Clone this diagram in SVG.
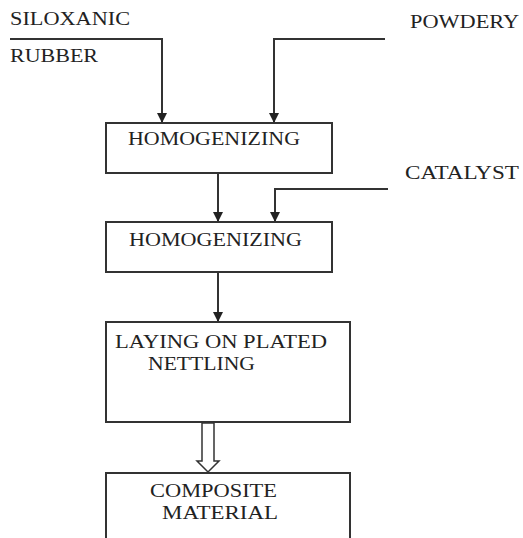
<svg xmlns="http://www.w3.org/2000/svg" width="523" height="538" viewBox="0 0 523 538">
<style>
text{font-family:"Liberation Serif","Times New Roman",serif;font-size:18px;fill:#222;}
.box{fill:#fff;stroke:#333;stroke-width:2;}
.ln{fill:none;stroke:#333;stroke-width:2;}
</style>
<defs>
<marker id="ah" viewBox="0 0 10 10" refX="10" refY="5" markerWidth="5" markerHeight="5.5" orient="auto" markerUnits="strokeWidth">
<path d="M0,0 L10,5 L0,10 z" fill="#222"/>
</marker>
</defs>
<rect width="523" height="538" fill="#fff"/>
<g id="inputs">
<text x="10" y="25" textLength="120" lengthAdjust="spacingAndGlyphs">SILOXANIC</text>
<text x="10" y="62" textLength="88" lengthAdjust="spacingAndGlyphs">RUBBER</text>
<text x="410" y="28" textLength="109" lengthAdjust="spacingAndGlyphs">POWDERY</text>
<text x="405" y="179" textLength="114" lengthAdjust="spacingAndGlyphs">CATALYST</text>
</g>
<g id="connectors">
<polyline class="ln" points="10,39 162,39 162,123" marker-end="url(#ah)"/>
<polyline class="ln" points="385,39 274,39 274,123" marker-end="url(#ah)"/>
<line class="ln" x1="218" y1="173" x2="218" y2="222" marker-end="url(#ah)"/>
<polyline class="ln" points="388,189 275,189 275,222" marker-end="url(#ah)"/>
<line class="ln" x1="218" y1="272" x2="218" y2="322" marker-end="url(#ah)"/>
<path d="M202,423 L214,423 L214,461 L219,461 L208,472 L197,461 L202,461 Z" fill="#fff" stroke="#333" stroke-width="1.5"/>
</g>
<g id="homogenizing1">
<rect class="box" x="106" y="123" width="226" height="50"/>
<text x="128" y="145" textLength="172" lengthAdjust="spacingAndGlyphs">HOMOGENIZING</text>
</g>
<g id="homogenizing2">
<rect class="box" x="106" y="222" width="226" height="50"/>
<text x="129" y="246" textLength="173" lengthAdjust="spacingAndGlyphs">HOMOGENIZING</text>
</g>
<g id="laying">
<rect class="box" x="106" y="322" width="244" height="100"/>
<text x="115" y="348" textLength="212" lengthAdjust="spacingAndGlyphs">LAYING ON PLATED</text>
<text x="148" y="370" textLength="107" lengthAdjust="spacingAndGlyphs">NETTLING</text>
</g>
<g id="composite">
<rect class="box" x="106" y="473" width="244" height="80"/>
<text x="150" y="497" textLength="127" lengthAdjust="spacingAndGlyphs">COMPOSITE</text>
<text x="162" y="519" textLength="116" lengthAdjust="spacingAndGlyphs">MATERIAL</text>
</g>
</svg>
